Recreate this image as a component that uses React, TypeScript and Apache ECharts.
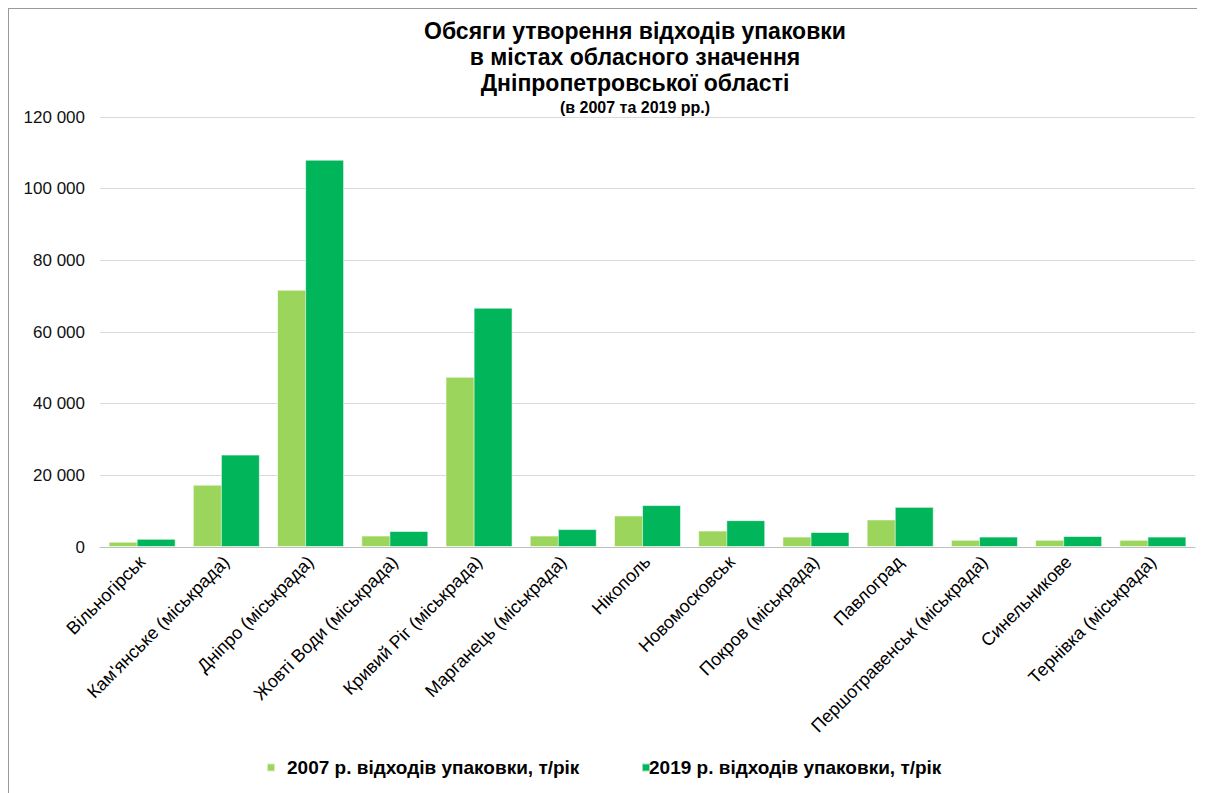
import React, { useEffect, useRef } from "react";
import * as echarts from "echarts";

const categories = [
  "Вільногірськ",
  "Кам'янське (міськрада)",
  "Дніпро (міськрада)",
  "Жовті Води (міськрада)",
  "Кривий Ріг (міськрада)",
  "Марганець (міськрада)",
  "Нікополь",
  "Новомосковськ",
  "Покров (міськрада)",
  "Павлоград",
  "Першотравенськ (міськрада)",
  "Синельникове",
  "Тернівка (міськрада)",
];

const values2007 = [1500, 17400, 71800, 3200, 47500, 3200, 8800, 4600, 2900, 7700, 2000, 2000, 2000];
const values2019 = [2300, 25800, 108100, 4500, 66800, 5000, 11700, 7500, 4200, 11200, 2900, 3100, 2900];

const series2007Name = "2007 р. відходів упаковки, т/рік";
const series2019Name = "2019 р. відходів упаковки, т/рік";

const titleLines = [
  "Обсяги утворення відходів упаковки",
  "в містах обласного значення",
  "Дніпропетровської області",
];
const subtitleText = "(в 2007 та 2019 рр.)";

const FONT = 'Arial, "Liberation Sans", sans-serif';

function fmt(v: number): string {
  const s = Math.round(v).toString();
  return s.replace(/\B(?=(\d{3})+(?!\d))/g, " ");
}

export default function App() {
  const ref = useRef<HTMLDivElement>(null);

  useEffect(() => {
    if (!ref.current) return;
    const chart = echarts.init(ref.current, undefined, { renderer: "svg" });
    chart.setOption({
      animation: false,
      backgroundColor: "#ffffff",
      textStyle: { fontFamily: FONT },
      graphic: [
        {
          type: "text",
          x: 626,
          y: 9,
          style: {
            text: titleLines.join("\n"),
            textAlign: "center",
            fontFamily: FONT,
            fontWeight: "bold",
            fontSize: 23,
            lineHeight: 26,
            fill: "#000000",
          },
        },
        {
          type: "text",
          x: 626,
          y: 89,
          style: {
            text: subtitleText,
            textAlign: "center",
            fontFamily: FONT,
            fontWeight: "bold",
            fontSize: 16,
            lineHeight: 18,
            fill: "#000000",
          },
        },
      ],
      legend: [
        {
          data: [series2007Name],
          left: 257,
          top: 749,
          padding: 0,
          itemWidth: 8,
          itemHeight: 8,
          icon: "rect",
          textStyle: {
            fontFamily: FONT,
            fontSize: 19,
            fontWeight: "bold",
            color: "#000",
            padding: [0, 0, 0, 7],
          },
        },
        {
          data: [series2019Name],
          left: 632,
          top: 749,
          padding: 0,
          itemWidth: 8,
          itemHeight: 8,
          icon: "rect",
          textStyle: {
            fontFamily: FONT,
            fontSize: 19,
            fontWeight: "bold",
            color: "#000",
            padding: [0, 0, 0, -6],
          },
        },
      ],
      grid: { left: 91, right: 10, top: 108, bottom: 246, containLabel: false },
      xAxis: {
        type: "category",
        data: categories,
        axisLine: { show: true, lineStyle: { color: "#bfbfbf", width: 1 } },
        axisTick: { show: false },
        axisLabel: {
          interval: 0,
          rotate: 45,
          margin: 12,
          fontFamily: FONT,
          fontSize: 18,
          color: "#000",
        },
      },
      yAxis: {
        type: "value",
        min: 0,
        max: 120000,
        interval: 20000,
        axisLine: { show: false },
        axisTick: { show: false },
        splitLine: { show: true, lineStyle: { color: "#d9d9d9", width: 1 } },
        axisLabel: {
          margin: 15,
          fontFamily: FONT,
          fontSize: 17,
          color: "#111",
          formatter: (v: number) => fmt(v),
        },
      },
      series: [
        {
          name: series2007Name,
          type: "bar",
          data: values2007,
          barWidth: 39,
          barGap: "-28%",
          itemStyle: { color: "#9BD55B", borderColor: "rgba(255,255,255,0.6)", borderWidth: 1 },
        },
        {
          name: series2019Name,
          type: "bar",
          data: values2019,
          barWidth: 39,
          barGap: "-28%",
          itemStyle: { color: "#00B55A", borderColor: "rgba(255,255,255,0.6)", borderWidth: 1 },
        },
      ],
    });
    return () => chart.dispose();
  }, []);

  return (
    <div
      style={{
        width: 1197,
        height: 785,
        boxSizing: "border-box",
        borderTop: "1px solid #9a9a9a",
        borderLeft: "1px solid #9a9a9a",
        overflow: "hidden",
      }}
    >
      <div ref={ref} style={{ width: 1196, height: 784 }} />
    </div>
  );
}
